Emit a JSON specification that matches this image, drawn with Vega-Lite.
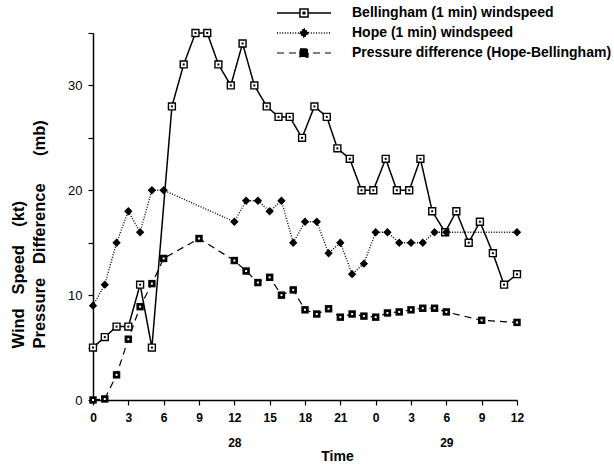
{
  "$schema": "https://vega.github.io/schema/vega-lite/v6.json",
  "width": 424,
  "height": 367,
  "autosize": {"type": "none"},
  "padding": {"left": 93, "top": 33, "right": 97, "bottom": 64},
  "background": "white",
  "config": {
    "view": {"stroke": null},
    "font": "Liberation Sans",
    "axis": {"grid": false, "domainColor": "black", "tickColor": "black", "labelColor": "black", "titleColor": "black", "domainWidth": 1.5, "tickWidth": 1.2, "labelFont": "Liberation Sans", "titleFont": "Liberation Sans"}
  },
  "datasets": {
    "d": [
      {"s": "Bellingham (1 min) windspeed", "t": 0, "v": 5},
      {"s": "Bellingham (1 min) windspeed", "t": 1, "v": 6},
      {"s": "Bellingham (1 min) windspeed", "t": 2, "v": 7},
      {"s": "Bellingham (1 min) windspeed", "t": 3, "v": 7},
      {"s": "Bellingham (1 min) windspeed", "t": 4, "v": 11},
      {"s": "Bellingham (1 min) windspeed", "t": 5, "v": 5},
      {"s": "Bellingham (1 min) windspeed", "t": 6.7, "v": 28},
      {"s": "Bellingham (1 min) windspeed", "t": 7.7, "v": 32},
      {"s": "Bellingham (1 min) windspeed", "t": 8.7, "v": 35},
      {"s": "Bellingham (1 min) windspeed", "t": 9.7, "v": 35},
      {"s": "Bellingham (1 min) windspeed", "t": 10.65, "v": 32},
      {"s": "Bellingham (1 min) windspeed", "t": 11.7, "v": 30},
      {"s": "Bellingham (1 min) windspeed", "t": 12.7, "v": 34},
      {"s": "Bellingham (1 min) windspeed", "t": 13.7, "v": 30},
      {"s": "Bellingham (1 min) windspeed", "t": 14.75, "v": 28},
      {"s": "Bellingham (1 min) windspeed", "t": 15.75, "v": 27},
      {"s": "Bellingham (1 min) windspeed", "t": 16.7, "v": 27},
      {"s": "Bellingham (1 min) windspeed", "t": 17.75, "v": 25},
      {"s": "Bellingham (1 min) windspeed", "t": 18.8, "v": 28},
      {"s": "Bellingham (1 min) windspeed", "t": 19.85, "v": 27},
      {"s": "Bellingham (1 min) windspeed", "t": 20.75, "v": 24},
      {"s": "Bellingham (1 min) windspeed", "t": 21.8, "v": 23},
      {"s": "Bellingham (1 min) windspeed", "t": 22.8, "v": 20},
      {"s": "Bellingham (1 min) windspeed", "t": 23.8, "v": 20},
      {"s": "Bellingham (1 min) windspeed", "t": 24.85, "v": 23},
      {"s": "Bellingham (1 min) windspeed", "t": 25.8, "v": 20},
      {"s": "Bellingham (1 min) windspeed", "t": 26.85, "v": 20},
      {"s": "Bellingham (1 min) windspeed", "t": 27.8, "v": 23},
      {"s": "Bellingham (1 min) windspeed", "t": 28.8, "v": 18},
      {"s": "Bellingham (1 min) windspeed", "t": 29.9, "v": 16},
      {"s": "Bellingham (1 min) windspeed", "t": 30.85, "v": 18},
      {"s": "Bellingham (1 min) windspeed", "t": 31.9, "v": 15},
      {"s": "Bellingham (1 min) windspeed", "t": 32.85, "v": 17},
      {"s": "Bellingham (1 min) windspeed", "t": 33.95, "v": 14},
      {"s": "Bellingham (1 min) windspeed", "t": 34.9, "v": 11},
      {"s": "Bellingham (1 min) windspeed", "t": 36, "v": 12},
      {"s": "Hope (1 min) windspeed", "t": 0, "v": 9},
      {"s": "Hope (1 min) windspeed", "t": 1, "v": 11},
      {"s": "Hope (1 min) windspeed", "t": 2, "v": 15},
      {"s": "Hope (1 min) windspeed", "t": 3, "v": 18},
      {"s": "Hope (1 min) windspeed", "t": 4, "v": 16},
      {"s": "Hope (1 min) windspeed", "t": 5, "v": 20},
      {"s": "Hope (1 min) windspeed", "t": 6, "v": 20},
      {"s": "Hope (1 min) windspeed", "t": 12, "v": 17},
      {"s": "Hope (1 min) windspeed", "t": 13, "v": 19},
      {"s": "Hope (1 min) windspeed", "t": 14, "v": 19},
      {"s": "Hope (1 min) windspeed", "t": 15, "v": 18},
      {"s": "Hope (1 min) windspeed", "t": 16, "v": 19},
      {"s": "Hope (1 min) windspeed", "t": 17, "v": 15},
      {"s": "Hope (1 min) windspeed", "t": 18, "v": 17},
      {"s": "Hope (1 min) windspeed", "t": 19, "v": 17},
      {"s": "Hope (1 min) windspeed", "t": 20, "v": 14},
      {"s": "Hope (1 min) windspeed", "t": 21, "v": 15},
      {"s": "Hope (1 min) windspeed", "t": 22, "v": 12},
      {"s": "Hope (1 min) windspeed", "t": 23, "v": 13},
      {"s": "Hope (1 min) windspeed", "t": 24, "v": 16},
      {"s": "Hope (1 min) windspeed", "t": 25, "v": 16},
      {"s": "Hope (1 min) windspeed", "t": 26, "v": 15},
      {"s": "Hope (1 min) windspeed", "t": 27, "v": 15},
      {"s": "Hope (1 min) windspeed", "t": 28, "v": 15},
      {"s": "Hope (1 min) windspeed", "t": 29, "v": 16},
      {"s": "Hope (1 min) windspeed", "t": 30, "v": 16},
      {"s": "Hope (1 min) windspeed", "t": 36, "v": 16},
      {"s": "Pressure difference (Hope-Bellingham)", "t": 0, "v": 0},
      {"s": "Pressure difference (Hope-Bellingham)", "t": 1, "v": 0.1},
      {"s": "Pressure difference (Hope-Bellingham)", "t": 2, "v": 2.4},
      {"s": "Pressure difference (Hope-Bellingham)", "t": 3, "v": 5.8},
      {"s": "Pressure difference (Hope-Bellingham)", "t": 4, "v": 8.9},
      {"s": "Pressure difference (Hope-Bellingham)", "t": 5, "v": 11.1},
      {"s": "Pressure difference (Hope-Bellingham)", "t": 6, "v": 13.5},
      {"s": "Pressure difference (Hope-Bellingham)", "t": 9, "v": 15.4},
      {"s": "Pressure difference (Hope-Bellingham)", "t": 12, "v": 13.3},
      {"s": "Pressure difference (Hope-Bellingham)", "t": 13, "v": 12.3},
      {"s": "Pressure difference (Hope-Bellingham)", "t": 14, "v": 11.2},
      {"s": "Pressure difference (Hope-Bellingham)", "t": 15, "v": 11.7},
      {"s": "Pressure difference (Hope-Bellingham)", "t": 16, "v": 10.0},
      {"s": "Pressure difference (Hope-Bellingham)", "t": 17, "v": 10.5},
      {"s": "Pressure difference (Hope-Bellingham)", "t": 18, "v": 8.6},
      {"s": "Pressure difference (Hope-Bellingham)", "t": 19, "v": 8.2},
      {"s": "Pressure difference (Hope-Bellingham)", "t": 20, "v": 8.7},
      {"s": "Pressure difference (Hope-Bellingham)", "t": 21, "v": 7.9},
      {"s": "Pressure difference (Hope-Bellingham)", "t": 22, "v": 8.2},
      {"s": "Pressure difference (Hope-Bellingham)", "t": 23, "v": 8.0},
      {"s": "Pressure difference (Hope-Bellingham)", "t": 24, "v": 7.9},
      {"s": "Pressure difference (Hope-Bellingham)", "t": 25, "v": 8.3},
      {"s": "Pressure difference (Hope-Bellingham)", "t": 26, "v": 8.4},
      {"s": "Pressure difference (Hope-Bellingham)", "t": 27, "v": 8.6},
      {"s": "Pressure difference (Hope-Bellingham)", "t": 28, "v": 8.75},
      {"s": "Pressure difference (Hope-Bellingham)", "t": 29, "v": 8.75},
      {"s": "Pressure difference (Hope-Bellingham)", "t": 30, "v": 8.4},
      {"s": "Pressure difference (Hope-Bellingham)", "t": 33, "v": 7.6},
      {"s": "Pressure difference (Hope-Bellingham)", "t": 36, "v": 7.4}
    ]
  },
  "data": {"name": "d"},
  "encoding": {
    "x": {
      "field": "t", "type": "quantitative",
      "scale": {"domain": [0, 36], "nice": false, "zero": false},
      "axis": {
        "values": [0, 3, 6, 9, 12, 15, 18, 21, 24, 27, 30, 33, 36],
        "labelExpr": "datum.value == 12 ? ['12', '28'] : datum.value == 30 ? ['6', '29'] : '' + (datum.value % 24)",
        "labelFontSize": 12, "labelFontWeight": "bold", "labelLineHeight": 25,
        "labelPadding": 7, "tickSize": 5, "labelFlush": false, "labelOverlap": false,
        "title": "Time", "titleFontSize": 14, "titleFontWeight": "bold",
        "titleX": 244, "titleY": 60, "titleBaseline": "alphabetic", "titleAlign": "center"
      }
    },
    "y": {
      "field": "v", "type": "quantitative",
      "scale": {"domain": [0, 35], "nice": false},
      "axis": {
        "values": [0, 5, 10, 15, 20, 25, 30, 35],
        "labelExpr": "datum.value % 10 == 0 && datum.value < 35 ? datum.label : ''",
        "labelFontSize": 13, "tickSize": 5, "labelPadding": 6, "labelOverlap": false,
        "title": ["Wind\u00a0\u00a0\u00a0Speed\u00a0\u00a0\u00a0\u00a0(kt)", "Pressure\u00a0\u00a0\u00a0Difference\u00a0\u00a0\u00a0\u00a0\u00a0\u00a0(mb)"],
        "titleFontSize": 16.5, "titleFontWeight": "bold", "titleAngle": 270,
        "titleAlign": "left", "titleBaseline": "top", "titleX": -83, "titleY": 315,
        "titleLineHeight": 21.5
      }
    }
  },
  "layer": [
    {
      "mark": {"type": "line", "color": "black"},
      "encoding": {
        "strokeDash": {
          "field": "s", "type": "nominal",
          "scale": {
            "domain": ["Bellingham (1 min) windspeed", "Hope (1 min) windspeed", "Pressure difference (Hope-Bellingham)"],
            "range": [[1, 0], [1, 1.6], [7, 5]]
          },
          "legend": {
            "orient": "none", "legendX": 183, "legendY": -28, "title": null,
            "symbolSize": 2916, "symbolStrokeWidth": 1.5, "symbolStrokeColor": "black",
            "clipHeight": 16, "rowPadding": 4, "labelOffset": 20, "symbolOffset": 0, "padding": 0,
            "labelFontSize": 14, "labelFontWeight": "bold", "labelFont": "Liberation Sans",
            "labelColor": "black", "labelLimit": 400,
            "encode": {
              "symbols": {
                "update": {
                  "shape": {"signal": "datum.value === 'Bellingham (1 min) windspeed' ? 'M-1,0H-0.15M0.15,0H1M-0.15,-0.15H0.15V0.15H-0.15ZM-0.03,-0.03H0.03V0.03H-0.03Z' : datum.value === 'Hope (1 min) windspeed' ? 'M-1,0H1M0,-0.17L0.17,0L0,0.17L-0.17,0Z' : 'M-1,0H1M-0.15,-0.15H0.15V0.15H-0.15Z'"},
                  "fill": {"signal": "datum.value === 'Bellingham (1 min) windspeed' ? 'white' : 'black'"},
                  "stroke": {"value": "black"},
                  "strokeWidth": {"signal": "datum.value === 'Hope (1 min) windspeed' ? 1.2 : 1.5"},
                  "opacity": {"value": 1}
                }
              }
            }
          }
        },
        "strokeWidth": {
          "field": "s", "type": "nominal",
          "scale": {
            "domain": ["Bellingham (1 min) windspeed", "Hope (1 min) windspeed", "Pressure difference (Hope-Bellingham)"],
            "range": [1.5, 1.2, 1.5]
          },
          "legend": null
        }
      }
    },
    {
      "transform": [{"filter": "datum.s === 'Bellingham (1 min) windspeed'"}],
      "mark": {"type": "point", "shape": "square", "filled": true, "fill": "white", "stroke": "black", "strokeWidth": 1.4, "size": 48, "opacity": 1}
    },
    {
      "transform": [{"filter": "datum.s === 'Bellingham (1 min) windspeed'"}],
      "mark": {"type": "square", "color": "black", "size": 4, "opacity": 1}
    },
    {
      "transform": [{"filter": "datum.s === 'Hope (1 min) windspeed'"}],
      "mark": {"type": "point", "shape": "diamond", "filled": true, "color": "black", "size": 70, "opacity": 1}
    },
    {
      "transform": [{"filter": "datum.s === 'Pressure difference (Hope-Bellingham)'"}],
      "mark": {"type": "square", "color": "black", "size": 55, "opacity": 1}
    },
    {
      "transform": [{"filter": "datum.s === 'Pressure difference (Hope-Bellingham)'"}],
      "mark": {"type": "square", "color": "white", "size": 4, "opacity": 1}
    }
  ]
}
